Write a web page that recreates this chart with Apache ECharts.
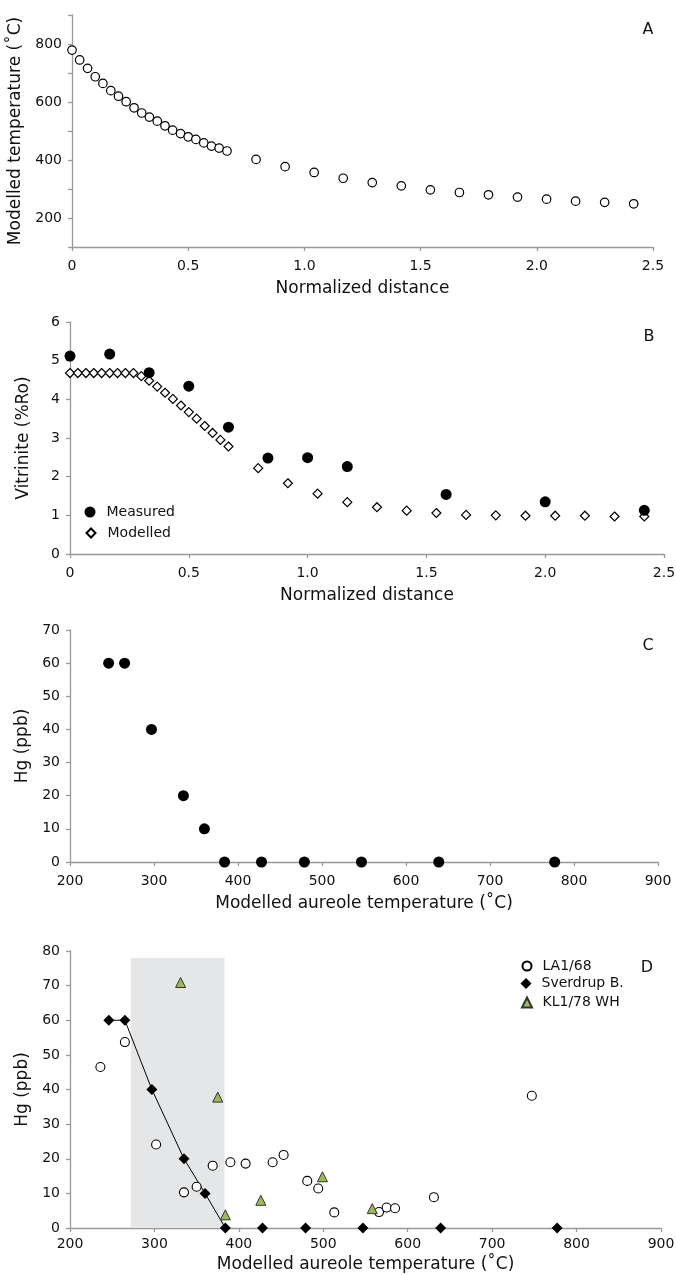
<!DOCTYPE html>
<html>
<head>
<meta charset="utf-8">
<script src="https://cdn.jsdelivr.net/npm/echarts@6/dist/echarts.min.js"></script>
<style>
html, body { margin: 0; padding: 0; background: #fff; }
#main { width: 676px; height: 1275px; }
</style>
</head>
<body>
<div id="main"></div>
<script>
// normalized distance of the modelled nodes (panels A and B)
var distance = [0, 0.033, 0.067, 0.1, 0.133, 0.167, 0.2, 0.233, 0.267, 0.3, 0.333, 0.367, 0.4,
    0.433, 0.467, 0.5, 0.533, 0.567, 0.6, 0.633, 0.667,
    0.792, 0.917, 1.042, 1.167, 1.292, 1.417, 1.542, 1.667, 1.792, 1.917, 2.042, 2.167, 2.292, 2.417];
var modelledTemp = [779, 745, 716, 687, 664, 639, 620, 601, 580, 562, 548, 534, 518,
    503, 491, 480, 471, 459, 448, 441, 431,
    402, 377, 357, 337, 322, 311, 297, 288, 280, 272, 265, 258, 254, 249];
var modelledRo = [4.68, 4.68, 4.68, 4.68, 4.68, 4.68, 4.68, 4.68, 4.68, 4.60, 4.48, 4.33, 4.17,
    4.01, 3.84, 3.67, 3.50, 3.31, 3.13, 2.95, 2.78,
    2.22, 1.83, 1.56, 1.34, 1.21, 1.12, 1.06, 1.01, 1.00, 0.99, 0.99, 0.99, 0.97, 0.97];
var measuredDist = [0, 0.167, 0.333, 0.5, 0.667, 0.833, 1.0, 1.167, 1.583, 2.0, 2.417];
var measuredRo = [5.12, 5.17, 4.69, 4.34, 3.28, 2.48, 2.49, 2.26, 1.54, 1.35, 1.13];

// panels C and D
var sverdrupTemp = [246, 265, 297, 335, 360, 384, 428, 479, 547, 639, 777];
var sverdrupHg = [60, 60, 40, 20, 10, 0, 0, 0, 0, 0, 0];
var la168Temp = [236, 265, 302, 335, 350, 369, 390, 408, 440, 453, 481, 494, 513, 566, 575, 585, 631, 747];
var la168Hg = [46.5, 53.7, 24.1, 10.3, 11.9, 18.0, 19.0, 18.6, 19.0, 21.1, 13.6, 11.4, 4.5, 4.6, 5.9, 5.7, 8.9, 38.2];
var kl178Temp = [331, 375, 384, 426, 499, 558];
var kl178Hg = [70.9, 37.8, 3.8, 8.0, 14.8, 5.6];
var shadeTemp = [272, 383];
var shadeTop = 78;

var FONT = 'DejaVu Sans';
var AXIS_GREY = '#999';

function pairs(xs, ys) {
    return xs.map(function (x, i) { return [x, ys[i]]; });
}

function xAxis(grid, min, max, interval, name, gap, margin, fmt) {
    return {
        gridIndex: grid, type: 'value', min: min, max: max, interval: interval,
        name: name, nameLocation: 'middle', nameGap: gap,
        nameTextStyle: { fontFamily: FONT, fontSize: 17, color: '#111' },
        axisLine: { show: true, onZero: false, lineStyle: { color: AXIS_GREY, width: 1.3 } },
        axisTick: { show: true, length: 4, lineStyle: { color: AXIS_GREY, width: 1.3 } },
        axisLabel: { fontFamily: FONT, fontSize: 14, color: '#111', margin: margin, formatter: fmt },
        splitLine: { show: false }
    };
}

function yAxis(grid, min, max, interval, name, fmt) {
    return {
        gridIndex: grid, type: 'value', min: min, max: max, interval: interval,
        name: name, nameLocation: 'middle', nameGap: 38,
        nameTextStyle: { fontFamily: FONT, fontSize: 17, color: '#111' },
        axisLine: { show: true, onZero: false, lineStyle: { color: AXIS_GREY, width: 1.3 } },
        axisTick: { show: true, length: 4, lineStyle: { color: AXIS_GREY, width: 1.3 } },
        axisLabel: { fontFamily: FONT, fontSize: 14, color: '#111', margin: 10, formatter: fmt },
        splitLine: { show: false }
    };
}

var distFmt = function (v) { return v === 0 ? '0' : v.toFixed(1); };
var tempFmt = function (v) { return (v % 200 === 0 && v >= 200 && v <= 800) ? String(v) : ''; };

function legendItem(name, left, top, w, h, pad) {
    return {
        data: [name], orient: 'vertical', left: left, top: top, padding: 0,
        itemWidth: w, itemHeight: h, selectedMode: false,
        textStyle: { fontFamily: FONT, fontSize: 14, color: '#111', padding: [0, 0, 0, pad] }
    };
}

function letter(txt, x, y) {
    return {
        type: 'text', x: x, y: y,
        style: { text: txt, font: '16px "' + FONT + '"', fill: '#111', align: 'center', verticalAlign: 'middle' }
    };
}

var openStyle = { color: '#fff', borderColor: '#000', borderWidth: 1.2, opacity: 1 };
var solidStyle = { color: '#000', opacity: 1 };

var chart = echarts.init(document.getElementById('main'));
chart.setOption({
    animation: false,
    backgroundColor: '#fff',
    grid: [
        { left: 72, top: 15, width: 581, height: 232, outerBoundsMode: 'none' },
        { left: 70, top: 322, width: 594, height: 232, outerBoundsMode: 'none' },
        { left: 70, top: 630, width: 588, height: 232, outerBoundsMode: 'none' },
        { left: 70, top: 951, width: 591, height: 277, outerBoundsMode: 'none' }
    ],
    xAxis: [
        xAxis(0, 0, 2.5, 0.5, 'Normalized distance', 33, 12, distFmt),
        xAxis(1, 0, 2.5, 0.5, 'Normalized distance', 33, 12, distFmt),
        xAxis(2, 200, 900, 100, 'Modelled aureole temperature (˚C)', 33, 12),
        xAxis(3, 200, 900, 100, 'Modelled aureole temperature (˚C)', 28, 9)
    ],
    yAxis: [
        yAxis(0, 100, 900, 100, 'Modelled temperature (˚C)', tempFmt),
        yAxis(1, 0, 6, 1, 'Vitrinite (%Ro)'),
        yAxis(2, 0, 70, 10, 'Hg (ppb)'),
        yAxis(3, 0, 80, 10, 'Hg (ppb)')
    ],
    legend: [
        legendItem('Measured', 84.5, 505, 11, 11, 6),
        legendItem('Modelled', 85.5, 526, 9, 9, 7),
        legendItem('LA1/68', 521.5, 959, 9, 9, 6),
        legendItem('Sverdrup B.', 520.5, 976.5, 11, 11, 5),
        legendItem('KL1/78 WH', 521, 995.5, 10, 10, 5.5)
    ],
    graphic: [
        letter('A', 648, 30),
        letter('B', 649, 337),
        letter('C', 648, 646),
        letter('D', 647, 968)
    ],
    series: [
        {
            name: 'Modelled temperature', type: 'scatter', xAxisIndex: 0, yAxisIndex: 0,
            data: pairs(distance, modelledTemp), symbol: 'circle', symbolSize: 8.5,
            itemStyle: openStyle
        },
        {
            name: 'Modelled', type: 'scatter', xAxisIndex: 1, yAxisIndex: 1,
            data: pairs(distance, modelledRo), symbol: 'diamond', symbolSize: 9,
            itemStyle: openStyle
        },
        {
            name: 'Measured', type: 'scatter', xAxisIndex: 1, yAxisIndex: 1,
            data: pairs(measuredDist, measuredRo), symbol: 'circle', symbolSize: 11,
            itemStyle: solidStyle
        },
        {
            name: 'Hg C', type: 'scatter', xAxisIndex: 2, yAxisIndex: 2,
            data: pairs(sverdrupTemp, sverdrupHg), symbol: 'circle', symbolSize: 11,
            itemStyle: solidStyle
        },
        {
            name: 'band', type: 'scatter', xAxisIndex: 3, yAxisIndex: 3, data: [], z: 1,
            markArea: {
                silent: true,
                itemStyle: { color: '#e5e6e8', opacity: 1 },
                data: [[{ coord: [shadeTemp[0], 0] }, { coord: [shadeTemp[1], shadeTop] }]]
            }
        },
        {
            name: 'Sverdrup trend', type: 'line', xAxisIndex: 3, yAxisIndex: 3, z: 3,
            data: pairs(sverdrupTemp.slice(0, 6), sverdrupHg.slice(0, 6)),
            showSymbol: false, symbol: 'none',
            lineStyle: { color: '#000', width: 1 }
        },
        {
            name: 'LA1/68', type: 'scatter', xAxisIndex: 3, yAxisIndex: 3, z: 4,
            data: pairs(la168Temp, la168Hg), symbol: 'circle', symbolSize: 9,
            itemStyle: { color: '#fff', borderColor: '#000', borderWidth: 1.1, opacity: 1 }
        },
        {
            name: 'KL1/78 WH', type: 'scatter', xAxisIndex: 3, yAxisIndex: 3, z: 5,
            data: pairs(kl178Temp, kl178Hg), symbol: 'triangle', symbolSize: 10,
            itemStyle: { color: '#9bbb59', borderColor: '#333', borderWidth: 1, opacity: 1 }
        },
        {
            name: 'Sverdrup B.', type: 'scatter', xAxisIndex: 3, yAxisIndex: 3, z: 6,
            data: pairs(sverdrupTemp, sverdrupHg), symbol: 'diamond', symbolSize: 11,
            itemStyle: solidStyle
        }
    ]
});
</script>
</body>
</html>
